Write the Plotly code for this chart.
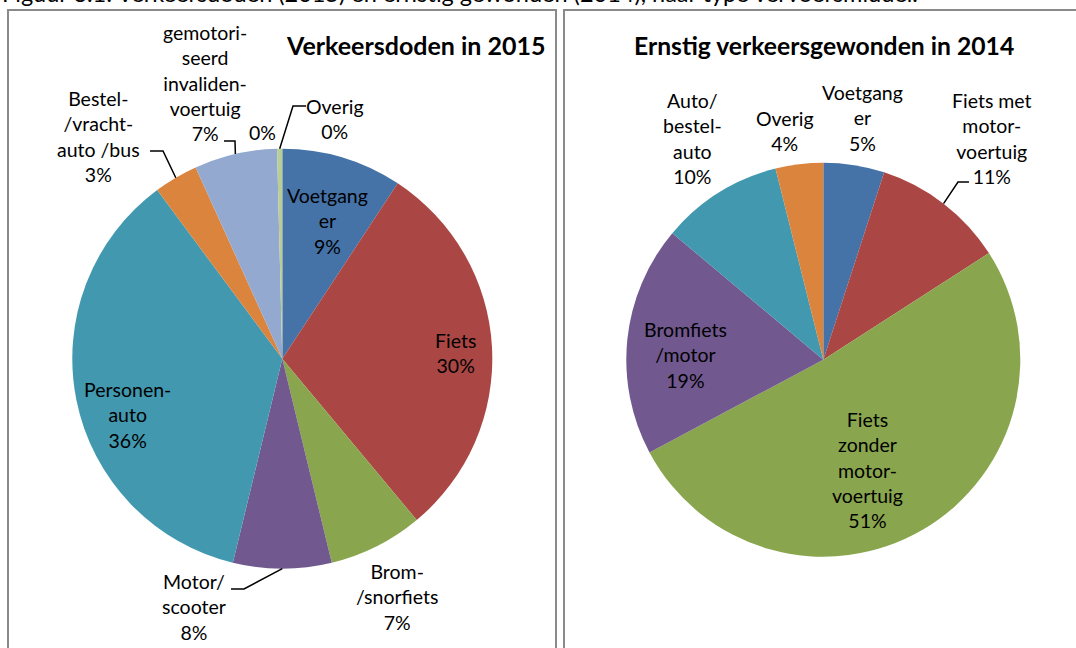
import math
import plotly.graph_objects as go

W, H = 1076, 648

# ---------------- data ----------------
doden_labels = ["Voetganger", "Fiets", "Brom-/snorfiets", "Motor/scooter", "Personenauto",
                "Bestel-/vrachtauto /bus", "gemotoriseerd invalidenvoertuig", "Onbekend", "Overig"]
doden_values = [9.3, 29.8, 7.3, 7.6, 36.2, 3.4, 6.4, 0.0, 0.4]
doden_text = ["Voetgang<br>er<br>9%", "Fiets<br>30%", "Brom-<br>/snorfiets<br>7%",
              "Motor/<br>scooter<br>8%", "Personen-<br>auto<br>36%",
              "Bestel-<br>/vracht-<br>auto /bus<br>3%",
              "gemotori-<br>seerd<br>invaliden-<br>voertuig<br>7%", "0%", "Overig<br>0%"]

gewond_labels = ["Voetganger", "Fiets met motorvoertuig", "Fiets zonder motorvoertuig",
                 "Bromfiets/motor", "Auto/bestelauto", "Overig"]
gewond_values = [5.0, 10.9, 51.3, 18.9, 10.0, 3.9]
gewond_text = ["Voetgang<br>er<br>5%", "Fiets met<br>motor-<br>voertuig<br>11%",
               "Fiets<br>zonder<br>motor-<br>voertuig<br>51%", "Bromfiets<br>/motor<br>19%",
               "Auto/<br>bestel-<br>auto<br>10%", "Overig<br>4%"]

page_title = "Figuur 3.1: Verkeersdoden (2015) en ernstig gewonden (2014), naar type vervoersmiddel."
title_left = "Verkeersdoden in 2015"
title_right = "Ernstig verkeersgewonden in 2014"

# ---------------- styling / layout ----------------
colors_doden = ["#4572A7", "#AA4643", "#89A54E", "#71588F", "#4198AF", "#DB843D",
                "#93A9CF", "#D19392", "#B9CD96"]
colors_gewond = ["#4572A7", "#AA4643", "#89A54E", "#71588F", "#4198AF", "#DB843D"]

FONT = "Lato"
LBL_SIZE = 19.5

P1 = dict(cx=282.3, cy=358.7, r=210)
P2 = dict(cx=823.3, cy=359.7, r=197)

# label centre positions (pixels, from top-left) for each slice label
pos_doden = [(327, 221), (455, 353), (397, 597), (194, 607), (127, 415),
             (98, 137), (205, 83), (262, 132), (335, 119)]
pos_gewond = [(863, 118), (992, 138), (867, 470), (685, 355), (692, 138), (785, 131)]

# leader lines: elbow points (pixels) per slice index -> [start, elbow]
lead_doden = {5: [(150, 151), (163, 151)], 6: [(224, 141), (235, 141)],
              8: [(306, 106), (293, 106)], 3: [(231, 589), (244, 589)]}
lead_gewond = {1: [(969, 182), (958, 182)]}


def px(x):
    return x / W


def py(y):
    return 1 - y / H


def domain(p):
    return dict(x=[px(p["cx"] - p["r"]), px(p["cx"] + p["r"])],
                y=[py(p["cy"] + p["r"]), py(p["cy"] - p["r"])])


def slice_mid(values, i, p):
    tot = sum(values)
    cum = sum(values[:i]) + values[i] / 2
    th = 2 * math.pi * cum / tot
    return p["cx"] + p["r"] * math.sin(th), p["cy"] - p["r"] * math.cos(th)


fig = go.Figure()
for labels, values, cols, p in [(doden_labels, doden_values, colors_doden, P1),
                                (gewond_labels, gewond_values, colors_gewond, P2)]:
    fig.add_trace(go.Pie(labels=labels, values=values, sort=False, direction="clockwise",
                         rotation=0, textinfo="none", hoverinfo="label+percent",
                         marker=dict(colors=cols, line=dict(width=0)),
                         domain=domain(p), showlegend=False))

annotations = []
shapes = []
for texts, positions in [(doden_text, pos_doden), (gewond_text, pos_gewond)]:
    for t, (x, y) in zip(texts, positions):
        annotations.append(dict(text=t, x=px(x), y=py(y), xref="paper", yref="paper",
                                showarrow=False, xanchor="center", yanchor="middle",
                                font=dict(family=FONT, size=LBL_SIZE, color="#000000")))

for values, leads, p in [(doden_values, lead_doden, P1), (gewond_values, lead_gewond, P2)]:
    for i, pts in leads.items():
        ex, ey = slice_mid(values, i, p)
        allp = pts + [(ex, ey)]
        path = "M " + " L ".join(f"{px(a):.5f},{py(b):.5f}" for a, b in allp)
        shapes.append(dict(type="path", path=path, xref="paper", yref="paper",
                           line=dict(color="#000000", width=1.5)))

# chart boxes
shapes.append(dict(type="rect", xref="paper", yref="paper", x0=px(8), x1=px(556),
                   y0=py(660), y1=py(10), line=dict(color="#8a8a8a", width=2)))
shapes.append(dict(type="rect", xref="paper", yref="paper", x0=px(564), x1=px(1090),
                   y0=py(660), y1=py(10), line=dict(color="#8a8a8a", width=2)))

annotations.append(dict(text=f"<b>{title_left}</b>", x=px(416), y=py(45), xref="paper",
                        yref="paper", showarrow=False, xanchor="center", yanchor="middle",
                        font=dict(family=FONT, size=25, color="#000000")))
annotations.append(dict(text=f"<b>{title_right}</b>", x=px(824), y=py(46), xref="paper",
                        yref="paper", showarrow=False, xanchor="center", yanchor="middle",
                        font=dict(family=FONT, size=24.7, color="#000000")))
annotations.append(dict(text=page_title, x=px(0), y=py(-7), xref="paper", yref="paper",
                        showarrow=False, xanchor="left", yanchor="middle",
                        font=dict(family=FONT, size=23.5, color="#000000")))

fig.update_layout(width=W, height=H, margin=dict(l=0, r=0, t=0, b=0),
                  paper_bgcolor="#ffffff", plot_bgcolor="#ffffff",
                  annotations=annotations, shapes=shapes)

fig.write_html("out.html", config={"displayModeBar": False},
               post_script="document.body.style.margin='0px';")
